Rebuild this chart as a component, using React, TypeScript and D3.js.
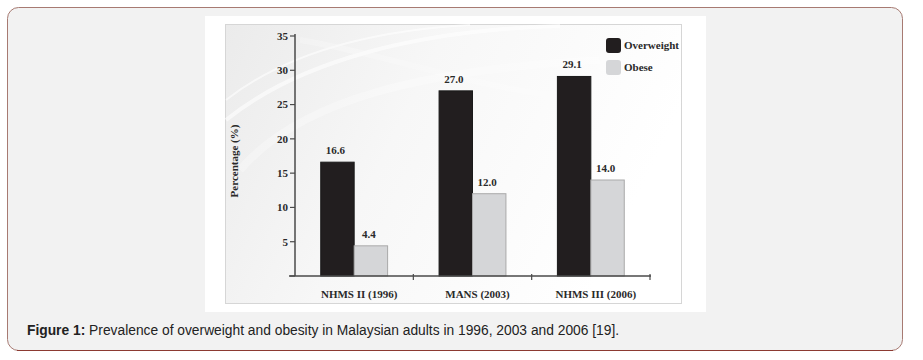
import * as d3 from "d3";
import { useEffect } from "react";

// survey rounds and series
const surveys = ["NHMS II (1996)", "MANS (2003)", "NHMS III (2006)"];
const seriesNames = ["Overweight", "Obese"];
const overweight = [16.6, 27.0, 29.1];
const obese = [4.4, 12.0, 14.0];
const yTicks = [0, 5, 10, 15, 20, 25, 30, 35];

const W = 923;
const H = 360;
const serif = "'Liberation Serif', 'DejaVu Serif', serif";

export default function App() {
  useEffect(() => {
    document.body.style.margin = "0";
  }, []);

  const x0 = d3.scaleBand().domain(surveys).range([295, 650]).padding(0);
  const x1 = d3
    .scaleBand()
    .domain(seriesNames)
    .range([0, x0.bandwidth()])
    .paddingInner(0)
    .paddingOuter(0.77);
  const y = d3.scaleLinear().domain([0, 35]).range([276, 36]);
  const color = d3
    .scaleOrdinal<string>()
    .domain(seriesNames)
    .range(["#221e1f", "#d5d6d8"]);
  const stroke = d3
    .scaleOrdinal<string>()
    .domain(seriesNames)
    .range(["#1a1a1a", "#a9a9a9"]);

  const rows = surveys.map((s, i) => ({
    survey: s,
    values: [
      { key: "Overweight", v: overweight[i] },
      { key: "Obese", v: obese[i] },
    ],
  }));

  const fmt = d3.format(".1f");
  const axisColor = "#4a4a4a";

  return (
    <svg width={W} height={H} style={{ display: "block" }}>
      <defs>
        <linearGradient id="panelBg" x1="0" y1="0" x2="1" y2="0.3">
          <stop offset="0" stopColor="#ebebeb" />
          <stop offset="0.45" stopColor="#f7f7f7" />
          <stop offset="1" stopColor="#ffffff" />
        </linearGradient>
      </defs>
      {/* card */}
      <rect x={0} y={0} width={W} height={H} fill="#ffffff" />
      <rect
        x={7.5}
        y={7.5}
        width={895}
        height={343}
        rx={11}
        fill="#f2f2f2"
        stroke="#a77a72"
        strokeWidth={1}
      />
      <line x1={17} x2={893} y1={350.5} y2={350.5} stroke="#8c3a32" strokeWidth={1.2} />

      {/* image area */}
      <rect x={205} y={16} width={501} height={296} fill="#ffffff" />
      <rect
        x={225.5}
        y={24.5}
        width={456}
        height={279}
        fill="url(#panelBg)"
        stroke="#d6d6d6"
        strokeWidth={1}
      />
      {/* faint swooshes */}
      <g fill="none" stroke="#ffffff" opacity={0.6}>
        <path d="M226,120 C300,60 420,30 560,26" strokeWidth={4} />
        <path d="M226,100 C290,50 380,30 470,25" strokeWidth={2} />
        <path d="M240,170 C300,100 420,70 600,60" strokeWidth={8} opacity={0.5} />
        <path d="M300,40 C420,60 520,110 681,100" strokeWidth={6} opacity={0.4} />
      </g>

      {/* bars */}
      {rows.map((r) => (
        <g key={r.survey} transform={`translate(${x0(r.survey)},0)`}>
          {r.values.map((d) => (
            <g key={d.key}>
              <rect
                x={x1(d.key)}
                y={y(d.v)}
                width={x1.bandwidth()}
                height={y(0) - y(d.v)}
                fill={color(d.key)}
                stroke={stroke(d.key)}
                strokeWidth={1}
              />
              <text
                x={(x1(d.key) as number) + x1.bandwidth() / 2 - 2}
                y={y(d.v) - 8}
                textAnchor="middle"
                fontFamily={serif}
                fontWeight="bold"
                fontSize={11}
                fill="#2a2a2a"
              >
                {fmt(d.v)}
              </text>
            </g>
          ))}
        </g>
      ))}

      {/* y axis */}
      <line x1={295} x2={295} y1={y(35) - 2} y2={y(0)} stroke={axisColor} strokeWidth={1.5} />
      {yTicks.map((t) => (
        <g key={t} transform={`translate(0,${y(t)})`}>
          <line x1={290} x2={295} stroke={axisColor} strokeWidth={1.2} />
          {t > 0 && (
            <text
              x={288}
              dy="0.35em"
              textAnchor="end"
              fontFamily={serif}
              fontWeight="bold"
              fontSize={11}
              fill="#2a2a2a"
            >
              {t}
            </text>
          )}
        </g>
      ))}
      <text
        transform={`translate(238,${(y(0) + y(35)) / 2 + 5}) rotate(-90)`}
        textAnchor="middle"
        fontFamily={serif}
        fontWeight="bold"
        fontSize={11}
        fill="#2a2a2a"
      >
        Percentage (%)
      </text>

      {/* x axis */}
      <line x1={289} x2={651} y1={y(0)} y2={y(0)} stroke={axisColor} strokeWidth={1.5} />
      {surveys.map((s) => (
        <g key={s}>
          <line
            x1={(x0(s) as number) + x0.bandwidth()}
            x2={(x0(s) as number) + x0.bandwidth()}
            y1={y(0) - 2}
            y2={y(0) + 4}
            stroke={axisColor}
            strokeWidth={1.2}
          />
          <text
            x={(x0(s) as number) + x0.bandwidth() / 2 + 5}
            y={y(0) + 22}
            textAnchor="middle"
            fontFamily={serif}
            fontWeight="bold"
            fontSize={11}
            fill="#2a2a2a"
          >
            {s}
          </text>
        </g>
      ))}

      {/* legend */}
      {seriesNames.map((n, i) => (
        <g key={n} transform={`translate(606,${38 + i * 22})`}>
          <rect width={15} height={15} rx={3} fill={color(n)} />
          <text
            x={18}
            y={7.5}
            dy="0.35em"
            fontFamily={serif}
            fontWeight="bold"
            fontSize={11}
            fill="#2a2a2a"
          >
            {n}
          </text>
        </g>
      ))}

      {/* caption */}
      <text x={27} y={335} fontFamily="'Liberation Sans', Arial, sans-serif" fontSize={13.8} fill="#222">
        <tspan fontWeight="bold">Figure 1:</tspan>
        <tspan> Prevalence of overweight and obesity in Malaysian adults in 1996, 2003 and 2006 [19].</tspan>
      </text>
    </svg>
  );
}
